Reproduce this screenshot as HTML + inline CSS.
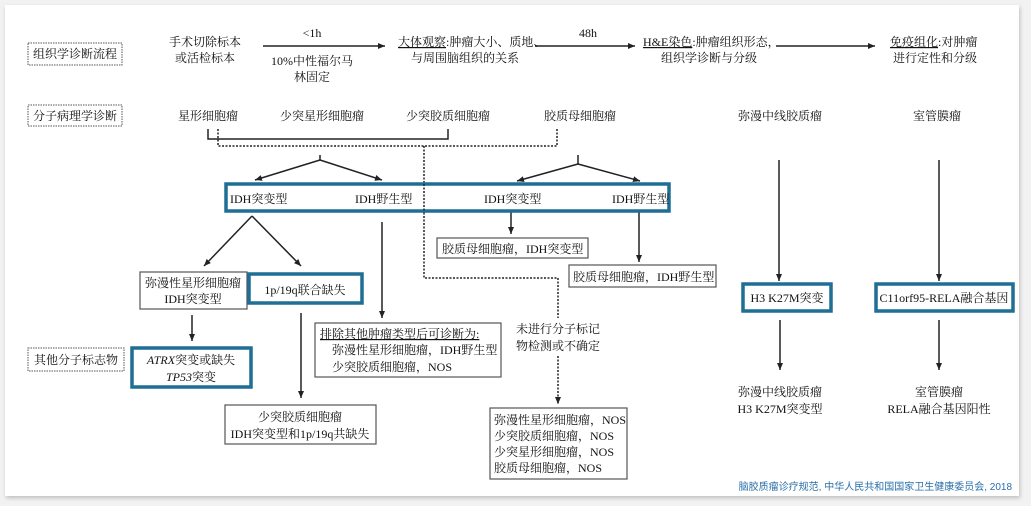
<!DOCTYPE html>
<html><head><meta charset="utf-8"><style>
html,body{margin:0;padding:0;background:#f2f2f2;}
svg{display:block;}
text{font-family:"Liberation Serif","Noto Serif CJK SC",serif;font-size:12px;fill:#111;}
.c{text-anchor:middle;}
</style></head><body>
<svg width="1031" height="506" viewBox="0 0 1031 506">
<defs>
<marker id="a" markerWidth="8" markerHeight="8" refX="7" refY="4" orient="auto" markerUnits="userSpaceOnUse"><path d="M0,1 L7,4 L0,7 z" fill="#222"/></marker>
<filter id="sh" x="-2%" y="-2%" width="104%" height="106%"><feDropShadow dx="1" dy="2" stdDeviation="2" flood-color="#999" flood-opacity="0.6"/></filter>
</defs>
<rect x="5" y="5" width="1014" height="491" fill="#fff" filter="url(#sh)"/>
<g stroke="#222" stroke-width="1.5" fill="none">
<line x1="263" y1="46" x2="385" y2="46" marker-end="url(#a)"/>
<line x1="535" y1="46" x2="635" y2="46" marker-end="url(#a)"/>
<line x1="776" y1="46" x2="875" y2="46" marker-end="url(#a)"/>
<polyline points="208,129 208,139 448,139 448,129"/>
<polyline points="218,129 218,146 557,146 557,129" stroke-dasharray="2,1.5"/>
<polyline points="424,146 424,278 558,278 558,318" stroke-dasharray="2,1.5"/>
<line x1="558" y1="356" x2="558" y2="404" stroke-dasharray="2,1.5" marker-end="url(#a)"/>
<polyline points="320,155 320,160"/>
<line x1="320" y1="160" x2="255" y2="180" marker-end="url(#a)"/>
<line x1="320" y1="160" x2="382" y2="180" marker-end="url(#a)"/>
<polyline points="578,155 578,164"/>
<line x1="578" y1="164" x2="517" y2="181" marker-end="url(#a)"/>
<line x1="578" y1="164" x2="640" y2="181" marker-end="url(#a)"/>
<line x1="252" y1="216" x2="204" y2="266" marker-end="url(#a)"/>
<line x1="252" y1="216" x2="301" y2="266" marker-end="url(#a)"/>
<line x1="382" y1="222" x2="382" y2="318" marker-end="url(#a)"/>
<line x1="511" y1="212" x2="511" y2="234" marker-end="url(#a)"/>
<line x1="639" y1="212" x2="639" y2="262" marker-end="url(#a)"/>
<line x1="192" y1="315" x2="192" y2="341" marker-end="url(#a)"/>
<line x1="301" y1="313" x2="301" y2="398" marker-end="url(#a)"/>
<line x1="779" y1="160" x2="779" y2="281" marker-end="url(#a)"/>
<line x1="939" y1="160" x2="939" y2="281" marker-end="url(#a)"/>
<line x1="780" y1="320" x2="780" y2="370" marker-end="url(#a)"/>
<line x1="939" y1="320" x2="939" y2="370" marker-end="url(#a)"/>
</g>
<g fill="none" stroke="#555" stroke-width="1" stroke-dasharray="1.5,1">
<rect x="28" y="43" width="94" height="22"/>
<rect x="28" y="105" width="94" height="21"/>
<rect x="28" y="348" width="96" height="23"/>
</g>
<g fill="#fff" stroke="#555" stroke-width="1.2">
<rect x="140" y="272" width="107" height="37"/>
<rect x="315" y="323" width="186" height="54"/>
<rect x="437" y="238" width="151" height="20"/>
<rect x="569" y="265" width="147" height="22"/>
<rect x="225" y="405" width="151" height="39"/>
<rect x="490" y="408" width="137" height="71"/>
</g>
<g fill="#fff" stroke="#1f6f95" stroke-width="3.5">
<rect x="226" y="184" width="443" height="27"/>
<rect x="249" y="274" width="113" height="29"/>
<rect x="132" y="348" width="119" height="39"/>
<rect x="743" y="284" width="88" height="27"/>
<rect x="876" y="284" width="137" height="27"/>
</g>
<line x1="424" y1="184" x2="424" y2="211" stroke="#222" stroke-width="1.5" stroke-dasharray="2,1.5"/>
<text x="75" y="58" class="c">组织学诊断流程</text>
<text x="75" y="120" class="c">分子病理学诊断</text>
<text x="76" y="364" class="c">其他分子标志物</text>
<text x="205" y="46" class="c">手术切除标本</text>
<text x="205" y="62" class="c">或活检标本</text>
<text x="312" y="37" class="c">&lt;1h</text>
<text x="312" y="65" class="c">10%中性福尔马</text>
<text x="312" y="81" class="c">林固定</text>
<text x="398" y="46"><tspan text-decoration="underline">大体观察</tspan>:肿瘤大小、质地、</text>
<text x="465" y="62" class="c">与周围脑组织的关系</text>
<text x="588" y="37" class="c">48h</text>
<text x="643" y="46"><tspan text-decoration="underline">H&amp;E染色</tspan>:肿瘤组织形态，</text>
<text x="709" y="62" class="c">组织学诊断与分级</text>
<text x="890" y="46"><tspan text-decoration="underline">免疫组化</tspan>:对肿瘤</text>
<text x="935" y="62" class="c">进行定性和分级</text>
<text x="208" y="120" class="c">星形细胞瘤</text>
<text x="322" y="120" class="c">少突星形细胞瘤</text>
<text x="448" y="120" class="c">少突胶质细胞瘤</text>
<text x="580" y="120" class="c">胶质母细胞瘤</text>
<text x="780" y="120" class="c">弥漫中线胶质瘤</text>
<text x="937" y="120" class="c">室管膜瘤</text>
<text x="230" y="203">IDH突变型</text>
<text x="355" y="203">IDH野生型</text>
<text x="484" y="203">IDH突变型</text>
<text x="612" y="203">IDH野生型</text>
<text x="193" y="287" class="c">弥漫性星形细胞瘤</text>
<text x="193" y="303" class="c">IDH突变型</text>
<text x="305" y="294" class="c">1p/19q联合缺失</text>
<text x="191" y="364" class="c"><tspan font-style="italic">ATRX</tspan>突变或缺失</text>
<text x="191" y="381" class="c"><tspan font-style="italic">TP53</tspan>突变</text>
<text x="320" y="338" text-decoration="underline">排除其他肿瘤类型后可诊断为:</text>
<text x="332" y="354">弥漫性星形细胞瘤，IDH野生型</text>
<text x="332" y="371">少突胶质细胞瘤，NOS</text>
<text x="442" y="253">胶质母细胞瘤，IDH突变型</text>
<text x="573" y="281">胶质母细胞瘤，IDH野生型</text>
<text x="300" y="421" class="c">少突胶质细胞瘤</text>
<text x="300" y="438" class="c">IDH突变型和1p/19q共缺失</text>
<text x="516" y="333">未进行分子标记</text>
<text x="516" y="350">物检测或不确定</text>
<text x="494" y="424">弥漫性星形细胞瘤，NOS</text>
<text x="494" y="440">少突胶质细胞瘤，NOS</text>
<text x="494" y="456">少突星形细胞瘤，NOS</text>
<text x="494" y="472">胶质母细胞瘤，NOS</text>
<text x="787" y="302" class="c">H3 K27M突变</text>
<text x="944" y="302" class="c">C11orf95-RELA融合基因</text>
<text x="780" y="396" class="c">弥漫中线胶质瘤</text>
<text x="780" y="413" class="c">H3 K27M突变型</text>
<text x="939" y="396" class="c">室管膜瘤</text>
<text x="939" y="413" class="c">RELA融合基因阳性</text>
<text x="1012" y="490" style="font-family:'Liberation Sans','Noto Sans CJK SC',sans-serif;font-size:10px;fill:#2a6fa8;text-anchor:end">脑胶质瘤诊疗规范, 中华人民共和国国家卫生健康委员会, 2018</text>
</svg>
</body></html>
